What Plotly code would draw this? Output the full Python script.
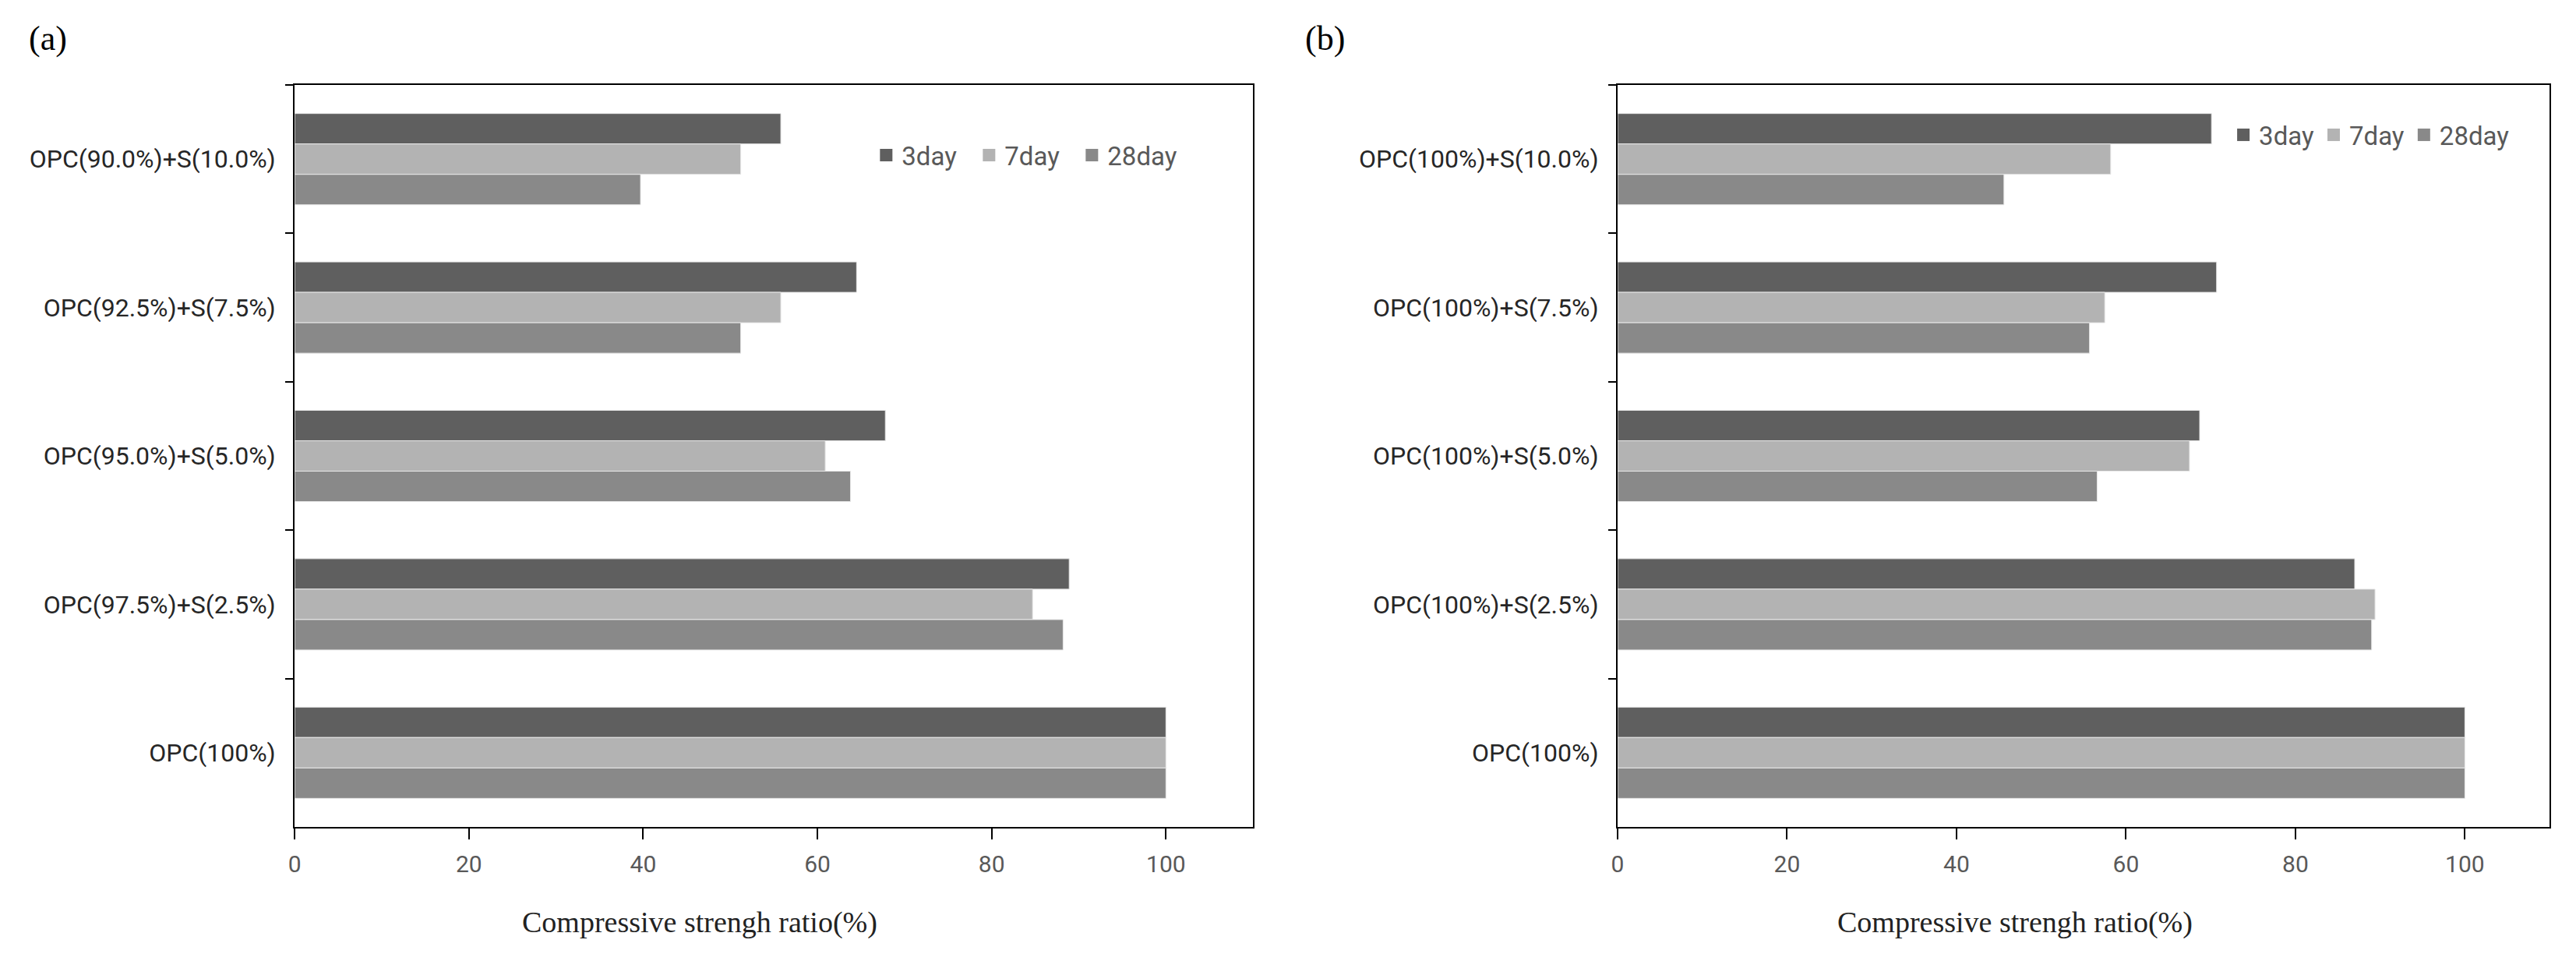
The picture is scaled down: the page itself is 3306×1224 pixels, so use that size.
import plotly.graph_objects as go

# Categories, listed top to bottom
cats_a = ["OPC(90.0%)+S(10.0%)", "OPC(92.5%)+S(7.5%)", "OPC(95.0%)+S(5.0%)",
          "OPC(97.5%)+S(2.5%)", "OPC(100%)"]
cats_b = ["OPC(100%)+S(10.0%)", "OPC(100%)+S(7.5%)", "OPC(100%)+S(5.0%)",
          "OPC(100%)+S(2.5%)", "OPC(100%)"]

series_names = ["3day", "7day", "28day"]

# Panel (a) values
a_3day = [55.8, 64.5, 67.8, 88.9, 100]
a_7day = [51.2, 55.8, 60.9, 84.7, 100]
a_28day = [39.7, 51.2, 63.8, 88.2, 100]

# Panel (b) values
b_3day = [70.1, 70.7, 68.7, 87.0, 100]
b_7day = [58.2, 57.5, 67.5, 89.4, 100]
b_28day = [45.6, 55.7, 56.6, 89.0, 100]

x_ticks = [0, 20, 40, 60, 80, 100]
x_title = "Compressive strengh ratio(%)"

colors = ["#5f5f5f", "#b3b3b3", "#898989"]

W, H = 3306, 1224
fig = go.Figure()

vals_a = [a_3day, a_7day, a_28day]
vals_b = [b_3day, b_7day, b_28day]
for panel, cats, vals, xa_id, ya_id, lg in [
        ("a", cats_a, vals_a, "x", "y", "legend"),
        ("b", cats_b, vals_b, "x2", "y2", "legend2")]:
    for name, v, c in zip(series_names, vals, colors):
        fig.add_trace(go.Bar(y=cats, x=v, name=name, orientation="h",
                             marker=dict(color=c, line=dict(color="#e8e8e8", width=1)),
                             xaxis=xa_id, yaxis=ya_id, legendgroup=panel + name,
                             showlegend=False))
        # legend entry with a larger square swatch
        fig.add_trace(go.Scatter(x=[None], y=[None], mode="markers", name=name,
                                 marker=dict(symbol="square", size=16, color=c),
                                 xaxis=xa_id, yaxis=ya_id, legendgroup=panel + name,
                                 legend=lg, showlegend=True, hoverinfo="skip"))

ydom = [1 - 1053 / H, 1 - 101 / H]
xa = dict(range=[0, 110], tickvals=x_ticks, showgrid=False, zeroline=False,
          showline=True, linecolor="#000", linewidth=2, mirror=True,
          ticks="outside", ticklen=14, tickwidth=2, tickcolor="#000",
          tickfont=dict(family="Roboto", size=30, color="#595959"),
          ticklabelstandoff=6)
ya = dict(showgrid=False, zeroline=False, showline=True, linecolor="#000", linewidth=2,
          mirror=True, ticks="outside", ticklen=10, tickwidth=2, tickcolor="#000",
          tickson="boundaries", autorange="reversed", domain=ydom,
          tickfont=dict(family="Roboto", size=32, color="#262626"),
          ticklabelstandoff=16)

legend_common = dict(orientation="h", bgcolor="rgba(0,0,0,0)", yanchor="middle",
                     xanchor="left", font=dict(family="Roboto", size=33, color="#595959"),
                     tracegroupgap=0)

title_font = dict(family="Liberation Serif", size=38, color="#222")
label_font = dict(family="Liberation Serif", size=44, color="#000")

fig.update_layout(
    width=W, height=H, paper_bgcolor="white", plot_bgcolor="white",
    margin=dict(l=0, r=0, t=0, b=0),
    barmode="group", bargap=0.385, bargroupgap=0,
    xaxis=dict(xa, domain=[363 / W, 1596 / W], anchor="y"),
    yaxis=dict(ya, anchor="x"),
    xaxis2=dict(xa, domain=[2065 / W, 3264 / W], anchor="y2"),
    yaxis2=dict(ya, anchor="x2"),
    legend=dict(legend_common, x=1104 / W, y=1 - 191 / H,
                entrywidthmode="pixels", entrywidth=87),
    legend2=dict(legend_common, x=2850 / W, y=1 - 165 / H),
    showlegend=True,
    annotations=[
        dict(text="(a)", x=19 / W, y=1 - 42 / H, xref="paper", yref="paper",
             xanchor="left", yanchor="middle", showarrow=False, font=label_font),
        dict(text="(b)", x=1661 / W, y=1 - 42 / H, xref="paper", yref="paper",
             xanchor="left", yanchor="middle", showarrow=False, font=label_font),
        dict(text=x_title, x=884 / W, y=1 - 1175 / H, xref="paper", yref="paper",
             xanchor="center", yanchor="middle", showarrow=False, font=title_font),
        dict(text=x_title, x=2576 / W, y=1 - 1175 / H, xref="paper", yref="paper",
             xanchor="center", yanchor="middle", showarrow=False, font=title_font),
    ],
)

fig.write_html("out.html")
